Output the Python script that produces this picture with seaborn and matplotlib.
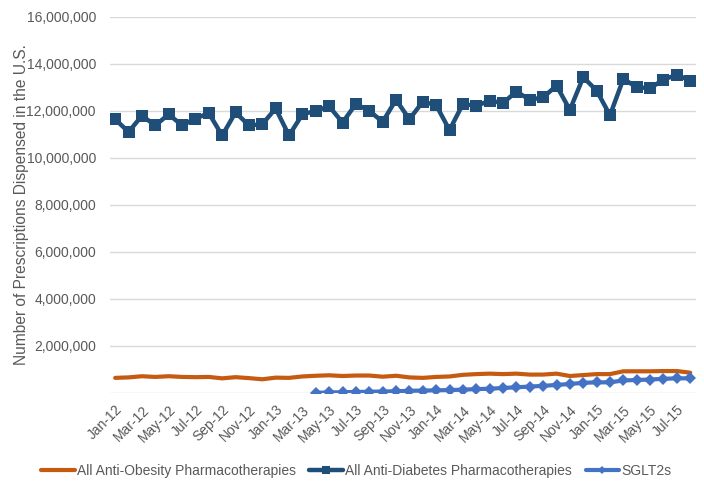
import seaborn as sns
import matplotlib.pyplot as plt
import matplotlib.ticker as mticker
import pandas as pd

months = pd.date_range('2012-01-01', '2015-08-01', freq='MS').strftime('%b-%y').tolist()

anti_obesity = [0.64, 0.66, 0.71, 0.68, 0.71, 0.68, 0.67, 0.68, 0.62, 0.67, 0.63, 0.58,
                0.65, 0.64, 0.70, 0.73, 0.75, 0.72, 0.74, 0.74, 0.69, 0.73, 0.66, 0.64,
                0.68, 0.70, 0.77, 0.80, 0.82, 0.80, 0.82, 0.78, 0.78, 0.82, 0.72, 0.76,
                0.80, 0.80, 0.92, 0.92, 0.92, 0.93, 0.93, 0.86]
anti_diabetes = [11.64, 11.10, 11.79, 11.38, 11.85, 11.38, 11.67, 11.90, 10.95, 11.93, 11.38, 11.43,
                 12.10, 10.95, 11.85, 12.00, 12.19, 11.50, 12.29, 12.00, 11.53, 12.47, 11.64, 12.39,
                 12.24, 11.18, 12.29, 12.21, 12.43, 12.33, 12.82, 12.47, 12.57, 13.07, 12.04, 13.43,
                 12.86, 11.81, 13.36, 13.00, 12.96, 13.33, 13.53, 13.28]
# SGLT2s start in Apr-13
sglt2_start = 15
sglt2 = [0.005, 0.02, 0.03, 0.04, 0.05, 0.06, 0.07, 0.09, 0.10, 0.11, 0.12, 0.14, 0.16, 0.18,
         0.21, 0.24, 0.27, 0.30, 0.34, 0.38, 0.43, 0.45, 0.45, 0.53, 0.55, 0.57, 0.60, 0.62, 0.62]

idx = list(range(len(months)))
df = pd.DataFrame({'i': idx,
                   'obesity': [v * 1e6 for v in anti_obesity],
                   'diabetes': [v * 1e6 for v in anti_diabetes]})
df_s = pd.DataFrame({'i': idx[sglt2_start:], 'sglt2': [v * 1e6 for v in sglt2]})

sns.set_style('white')
plt.rcParams['font.family'] = ['Liberation Sans', 'DejaVu Sans']
gray = '#595959'

fig = plt.figure(figsize=(7.04, 4.93), dpi=100)
ax = fig.add_axes([0.156, 0.203, 0.833, 0.763])

sns.lineplot(data=df, x='i', y='obesity', ax=ax, color='#C55A11', linewidth=3,
             label='All Anti-Obesity Pharmacotherapies')
sns.lineplot(data=df, x='i', y='diabetes', ax=ax, color='#1F4E79', linewidth=3.2,
             marker='s', markersize=8, markeredgewidth=0,
             label='All Anti-Diabetes Pharmacotherapies')
sns.lineplot(data=df_s, x='i', y='sglt2', ax=ax, color='#4472C4', linewidth=3,
             marker='D', markersize=6, markeredgewidth=0, label='SGLT2s')

ax.set_xlim(-0.4, len(months) - 0.55)
ax.set_ylim(0, 16e6)
ax.yaxis.set_major_locator(mticker.MultipleLocator(2e6))
ax.yaxis.set_major_formatter(mticker.FuncFormatter(lambda v, p: '' if v == 0 else f'{v:,.0f}'))
ax.grid(axis='y', color='#d9d9d9', linewidth=1)
ax.set_axisbelow(True)
for s in ax.spines.values():
    s.set_visible(False)

ax.set_xticks(idx[::2])
ax.set_xticklabels(months[::2], rotation=45, ha='right', rotation_mode='anchor')
ax.tick_params(axis='both', length=0, labelsize=10, colors=gray)
ax.tick_params(axis='x', pad=7)
ax.tick_params(axis='y', pad=10)
ax.set_xlabel('')
ax.set_ylabel('Number of Prescriptions Dispensed in the U.S.', fontsize=11.2, color=gray,
              labelpad=-2)

ax.legend(loc='center', bbox_to_anchor=(0.42, -0.207), ncol=3, frameon=False,
          fontsize=10, handlelength=2.4, handletextpad=0.15, columnspacing=1.0,
          labelcolor=gray, markerscale=0.7)

fig.savefig('out.png', dpi=100)
